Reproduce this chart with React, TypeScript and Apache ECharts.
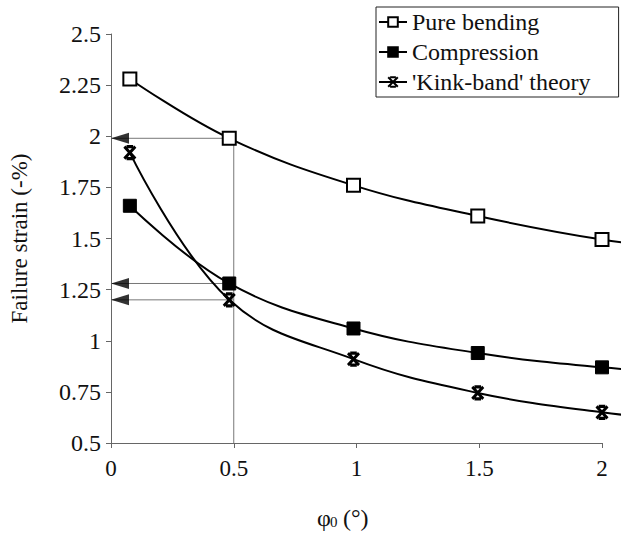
import React, { useEffect, useRef } from "react";
import * as echarts from "echarts";

const xValues = [0.1, 0.5, 1, 1.5, 2, 2.5];
const pureBending = [2.28, 1.99, 1.76, 1.61, 1.495, 1.42];
const compression = [1.66, 1.28, 1.06, 0.94, 0.87, 0.83];
const kinkBand = [1.92, 1.2, 0.91, 0.745, 0.65, 0.59];
const seriesNames = ["Pure bending", "Compression", "'Kink-band' theory"];
const guideX = 0.5;
const guideValues = [1.99, 1.28, 1.2];
const yTicks = ["0.5", "0.75", "1", "1.25", "1.5", "1.75", "2", "2.25", "2.5"];

const FONT = "Liberation Serif";
const TXT = "#111";
const kinkSymbol = "path://M0,0L10,12M10,0L0,12M2,0L8,0M2,12L8,12";

const VIEW_W = 621;
const FULL_W = 727;

export default function App() {
  const ref = useRef<HTMLDivElement>(null);
  useEffect(() => {
    if (!ref.current) return;
    const chart = echarts.init(ref.current, undefined, { renderer: "svg" });
    const pair = (ys: number[]) => xValues.map((x, i) => [x, ys[i]]);
    const lineBase = {
      type: "line" as const,
      smooth: 0.4,
      xAxisIndex: 1,
      yAxisIndex: 1,
      symbolSize: 13,
      lineStyle: { color: "#000", width: 2 },
    };
    const guideBase = {
      type: "line" as const,
      xAxisIndex: 0,
      yAxisIndex: 0,
      symbol: "none",
      silent: true,
      lineStyle: { color: "#777", width: 1 },
      z: 2,
    };
    const guides = [
      [[guideX, 0.5], [guideX, guideValues[0]]],
      ...guideValues.map((v) => [[guideX, v], [0, v]]),
    ];
    const left = 105;
    const axisEnd = 602;
    const plotW = axisEnd - left;
    const wideRight = FULL_W - (left + (plotW * 2.5) / 2);
    chart.setOption({
      animation: false,
      grid: [
        { left, right: FULL_W - axisEnd, top: 34, bottom: 94 },
        { left, right: wideRight, top: 34, bottom: 94 },
      ],
      legend: {
        data: seriesNames,
        orient: "vertical",
        left: 376,
        top: 7,
        itemWidth: 28,
        itemHeight: 12,
        itemGap: 6,
        padding: [3, 28, 3, 2],
        borderColor: "#222",
        borderWidth: 1,
        textStyle: { fontFamily: FONT, fontSize: 24, color: TXT },
      },
      xAxis: [
        {
          type: "value",
          gridIndex: 0,
          min: 0,
          max: 2,
          interval: 0.5,
          axisLine: { show: true, lineStyle: { color: "#666", width: 1 } },
          axisTick: { show: true, length: 5, lineStyle: { color: "#666" } },
          splitLine: { show: false },
          axisLabel: { fontFamily: FONT, fontSize: 23, color: TXT, margin: 14 },
        },
        { type: "value", gridIndex: 1, min: 0, max: 2.5, show: false, splitLine: { show: false } },
      ],
      yAxis: [
        {
          type: "value",
          gridIndex: 0,
          min: 0.5,
          max: 2.5,
          interval: 0.25,
          name: "Failure strain (-%)",
          nameLocation: "middle",
          nameGap: 80,
          nameTextStyle: { fontFamily: FONT, fontSize: 23, color: TXT },
          axisLine: { show: true, lineStyle: { color: "#666", width: 1 } },
          axisTick: { show: true, length: 5, lineStyle: { color: "#666" } },
          splitLine: { show: false },
          axisLabel: {
            fontFamily: FONT,
            fontSize: 24,
            color: TXT,
            margin: 10,
            formatter: (v: number) => yTicks[Math.round((v - 0.5) / 0.25)] ?? String(v),
          },
        },
        { type: "value", gridIndex: 1, min: 0.5, max: 2.5, show: false, splitLine: { show: false } },
      ],
      graphic: [
        { type: "text", left: 317, top: 506, style: { text: "φ", fontFamily: FONT, fontSize: 24, fill: TXT } },
        { type: "text", left: 330, top: 514, style: { text: "0", fontFamily: FONT, fontSize: 15, fill: TXT } },
        { type: "text", left: 343, top: 506, style: { text: "(°)", fontFamily: FONT, fontSize: 24, fill: TXT } },
      ],
      series: [
        ...guides.map((g, i) => ({ ...guideBase, name: "guide" + i, data: g })),
        {
          ...lineBase,
          name: seriesNames[0],
          data: pair(pureBending),
          symbol: "rect",
          itemStyle: { color: "#fff", borderColor: "#000", borderWidth: 2 },
          z: 5,
        },
        {
          ...lineBase,
          name: seriesNames[1],
          data: pair(compression),
          symbol: "rect",
          itemStyle: { color: "#000", borderColor: "#000", borderWidth: 1 },
          z: 5,
        },
        {
          ...lineBase,
          name: seriesNames[2],
          data: pair(kinkBand),
          symbol: kinkSymbol,
          symbolSize: [11, 12],
          itemStyle: { color: "#000", borderColor: "#000", borderWidth: 3 },
          z: 5,
        },
        {
          type: "scatter",
          name: "arrows",
          xAxisIndex: 0,
          yAxisIndex: 0,
          clip: false,
          silent: true,
          data: guideValues.map((v) => [0, v]),
          symbol: "triangle",
          symbolRotate: 90,
          symbolSize: [11, 18],
          symbolOffset: [9, 0],
          itemStyle: { color: "#000" },
          z: 6,
        },
      ],
    });
    return () => chart.dispose();
  }, []);
  return (
    <div
      style={{ position: "absolute", left: 0, top: 0, width: VIEW_W, height: 537, overflow: "hidden", background: "#fff" }}
    >
      <div ref={ref} style={{ width: FULL_W, height: 537 }} />
    </div>
  );
}
